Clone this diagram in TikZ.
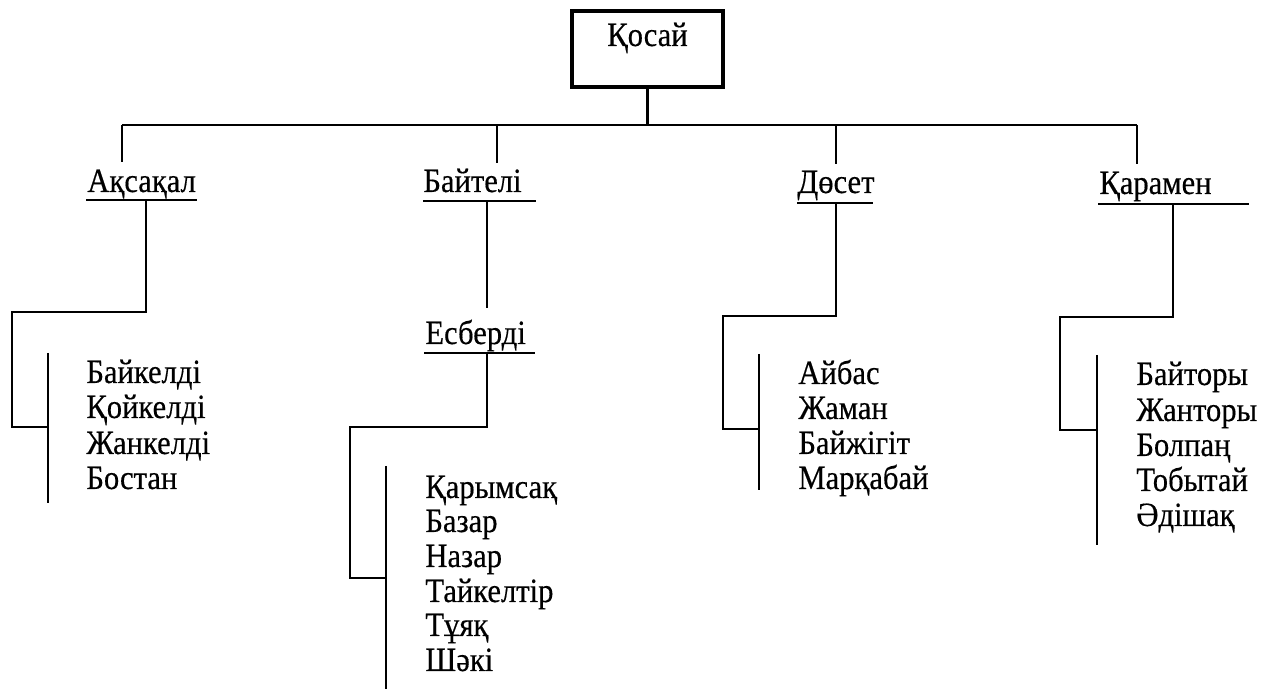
\documentclass[tikz,border=0pt]{standalone}
\usepackage{fontspec}
\setmainfont[FakeStretch=0.9,FakeBold=0.4]{Liberation Serif}
\begin{document}
\begin{tikzpicture}[x=0.5pt,y=-0.5pt,
  line/.style={line width=1.35pt},
  txt/.style={inner sep=0pt,anchor=base west,font=\fontsize{17}{19}\selectfont},
  boxst/.style={draw,line width=1.7pt,minimum width=75.5pt,minimum height=38pt,inner sep=0pt}]
\useasboundingbox (0,0) rectangle (1281,689);
% top
\node[boxst] (top) at (647.5,49) {};
\node[txt,anchor=base] (topt) at (647.5,46) {Қосай};
\coordinate (j0) at (647.5,125);
\coordinate (busl) at (122,125);
\coordinate (busr) at (1137,125);
\coordinate (jb) at (497,125);
\coordinate (jd) at (836,125);
\draw[line] (top.south) -- (j0);
\draw[line] (busl) -- (busr);
% level 1 labels
\node[txt] (aks) at (87,192) {Ақсақал};
\node[txt] (bai) at (423,192) {Байтелі};
\node[txt] (dos) at (797,193) {Дөсет};
\node[txt] (kar) at (1099,194) {Қарамен};
\coordinate (aksd) at (122,162);
\coordinate (baid) at (497,163);
\coordinate (dosd) at (836,164);
\coordinate (kard) at (1137,164);
\draw[line] (busl) -- (aksd);
\draw[line] (jb) -- (baid);
\draw[line] (jd) -- (dosd);
\draw[line] (busr) -- (kard);
% underlines
\coordinate (aksu1) at (86,200); \coordinate (aksu2) at (197,200);
\coordinate (baiu1) at (423,201); \coordinate (baiu2) at (536,201);
\coordinate (dosu1) at (797,203); \coordinate (dosu2) at (873,203);
\coordinate (karu1) at (1098,204); \coordinate (karu2) at (1249,204);
\draw[line] (aksu1) -- (aksu2);
\draw[line] (baiu1) -- (baiu2);
\draw[line] (dosu1) -- (dosu2);
\draw[line] (karu1) -- (karu2);
% Ақсақал branch
\coordinate (a0) at (146,200);
\coordinate (a1) at (48,427);
\coordinate (abt) at (48,353);
\coordinate (abb) at (48,503);
\draw[line] (a0) -- (146,312) -- (12,312) -- (12,427) -- (a1);
\draw[line] (abt) -- (abb);
\node[txt] (a-1) at (86,383) {Байкелді};
\node[txt] (a-2) at (86,418) {Қойкелді};
\node[txt] (a-3) at (86,454) {Жанкелді};
\node[txt] (a-4) at (86,489) {Бостан};
% Байтелі branch
\coordinate (b0) at (487,201);
\coordinate (b1) at (487,308);
\draw[line] (b0) -- (b1);
\node[txt] (esb) at (425,344) {Есберді};
\coordinate (esu1) at (424,353); \coordinate (esu2) at (535,353);
\draw[line] (esu1) -- (esu2);
\coordinate (e0) at (487,353);
\coordinate (e1) at (386,578);
\coordinate (ebt) at (386,466);
\coordinate (ebb) at (386,689);
\draw[line] (e0) -- (487,427) -- (350,427) -- (350,578) -- (e1);
\draw[line] (ebt) -- (ebb);
\node[txt] (e-1) at (425,498) {Қарымсақ};
\node[txt] (e-2) at (425,532) {Базар};
\node[txt] (e-3) at (425,567) {Назар};
\node[txt] (e-4) at (425,602) {Тайкелтір};
\node[txt] (e-5) at (425,636) {Тұяқ};
\node[txt] (e-6) at (425,671) {Шәкі};
% Дөсет branch
\coordinate (d0) at (836,203);
\coordinate (d1) at (759,429);
\coordinate (dbt) at (759,354);
\coordinate (dbb) at (759,490);
\draw[line] (d0) -- (836,316) -- (723,316) -- (723,429) -- (d1);
\draw[line] (dbt) -- (dbb);
\node[txt] (d-1) at (798,384) {Айбас};
\node[txt] (d-2) at (798,419) {Жаман};
\node[txt] (d-3) at (798,454) {Байжігіт};
\node[txt] (d-4) at (798,489) {Марқабай};
% Қарамен branch
\coordinate (k0) at (1173,204);
\coordinate (k1) at (1097,430);
\coordinate (kbt) at (1097,355);
\coordinate (kbb) at (1097,545);
\draw[line] (k0) -- (1173,317) -- (1060,317) -- (1060,430) -- (k1);
\draw[line] (kbt) -- (kbb);
\node[txt] (k-1) at (1136,385) {Байторы};
\node[txt] (k-2) at (1136,421) {Жанторы};
\node[txt] (k-3) at (1136,456) {Болпаң};
\node[txt] (k-4) at (1136,491) {Тобытай};
\node[txt] (k-5) at (1136,526) {Әдішақ};
\end{tikzpicture}
\end{document}
